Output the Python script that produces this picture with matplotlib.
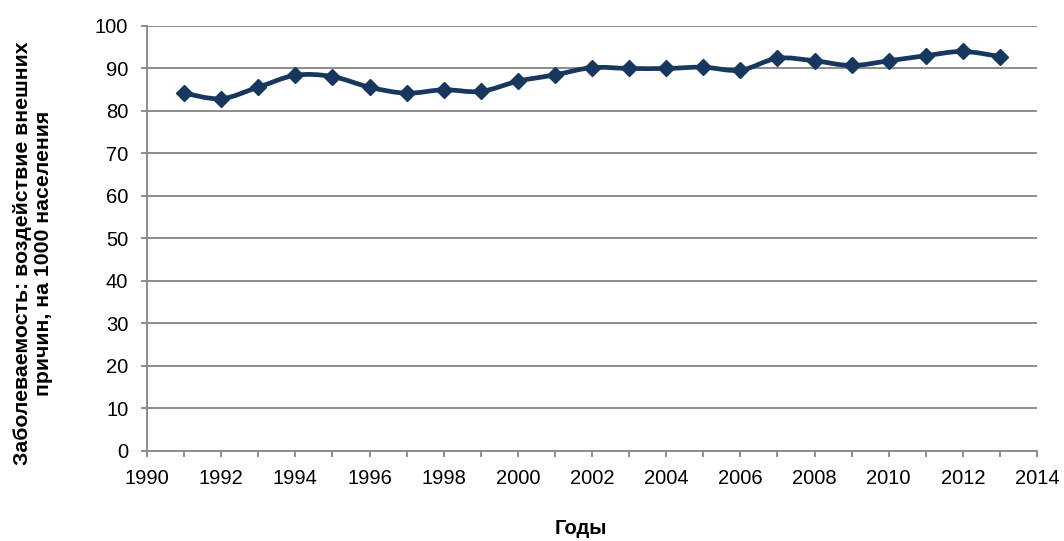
import matplotlib
matplotlib.use("Agg")
import matplotlib.pyplot as plt
from matplotlib.path import Path
from matplotlib.patches import PathPatch
import numpy as np

plt.rcParams['font.family'] = ['Liberation Sans', 'DejaVu Sans']

years = [1991, 1992, 1993, 1994, 1995, 1996, 1997, 1998, 1999, 2000, 2001, 2002,
         2003, 2004, 2005, 2006, 2007, 2008, 2009, 2010, 2011, 2012, 2013]
values = [84.1, 82.8, 85.5, 88.3, 88.0, 85.5, 84.1, 84.9, 84.5, 86.9, 88.4, 90.1,
          89.9, 89.9, 90.2, 89.5, 92.3, 91.7, 90.6, 91.7, 92.9, 93.9, 92.7]
x_ticks = list(range(1990, 2015, 2))
y_ticks = list(range(0, 101, 10))

color = '#17375E'
grid_color = '#8C8C8C'
fs = 14.5

fig = plt.figure(figsize=(10.64, 5.41), dpi=100)
ax = fig.add_axes([147 / 1064, 90 / 541, 890 / 1064, 425.5 / 541])

# smoothed line through the points (cubic Bezier, Catmull-Rom style)
pts = np.column_stack([years, values]).astype(float)
n = len(pts)
verts = [pts[0]]
codes = [Path.MOVETO]
for i in range(n - 1):
    p0 = pts[i - 1] if i > 0 else pts[i]
    p1 = pts[i]
    p2 = pts[i + 1]
    p3 = pts[i + 2] if i + 2 < n else pts[i + 1]
    c1 = p1 + (p2 - p0) / 6.0
    c2 = p2 - (p3 - p1) / 6.0
    verts += [c1, c2, p2]
    codes += [Path.CURVE4] * 3
patch = PathPatch(Path(verts, codes), facecolor='none', edgecolor=color,
                  linewidth=3.4, zorder=3, capstyle='round', joinstyle='round')
ax.add_patch(patch)
ax.plot(years, values, linestyle='none', marker='D', markersize=7.8,
        color=color, zorder=4)

ax.set_xlim(1990, 2014)
ax.set_ylim(0, 100)
ax.set_xticks(x_ticks)
ax.set_xticks(range(1990, 2015), minor=True)
ax.set_yticks(y_ticks)
ax.yaxis.grid(True, color=grid_color, linewidth=1.4)
ax.set_axisbelow(True)

for s in ['top', 'right']:
    ax.spines[s].set_visible(False)
for s in ['left', 'bottom']:
    ax.spines[s].set_color(grid_color)
    ax.spines[s].set_linewidth(1.4)

ax.tick_params(axis='both', which='both', direction='out', color=grid_color,
               width=1.4, labelsize=fs)
ax.tick_params(axis='x', which='both', length=4, pad=9)
ax.tick_params(axis='y', length=4.5, pad=9)

fig.text(581 / 1064, 1 - 528 / 541, 'Годы', fontsize=fs, fontweight='bold',
         ha='center', va='center')
fig.text(33 / 1064, 1 - 253 / 541,
         'Заболеваемость: воздействие внешних\nпричин, на 1000 населения',
         fontsize=15.3, fontweight='bold', rotation=90, ha='center', va='center',
         multialignment='center', linespacing=1.1)

fig.savefig('out.png', dpi=100)
